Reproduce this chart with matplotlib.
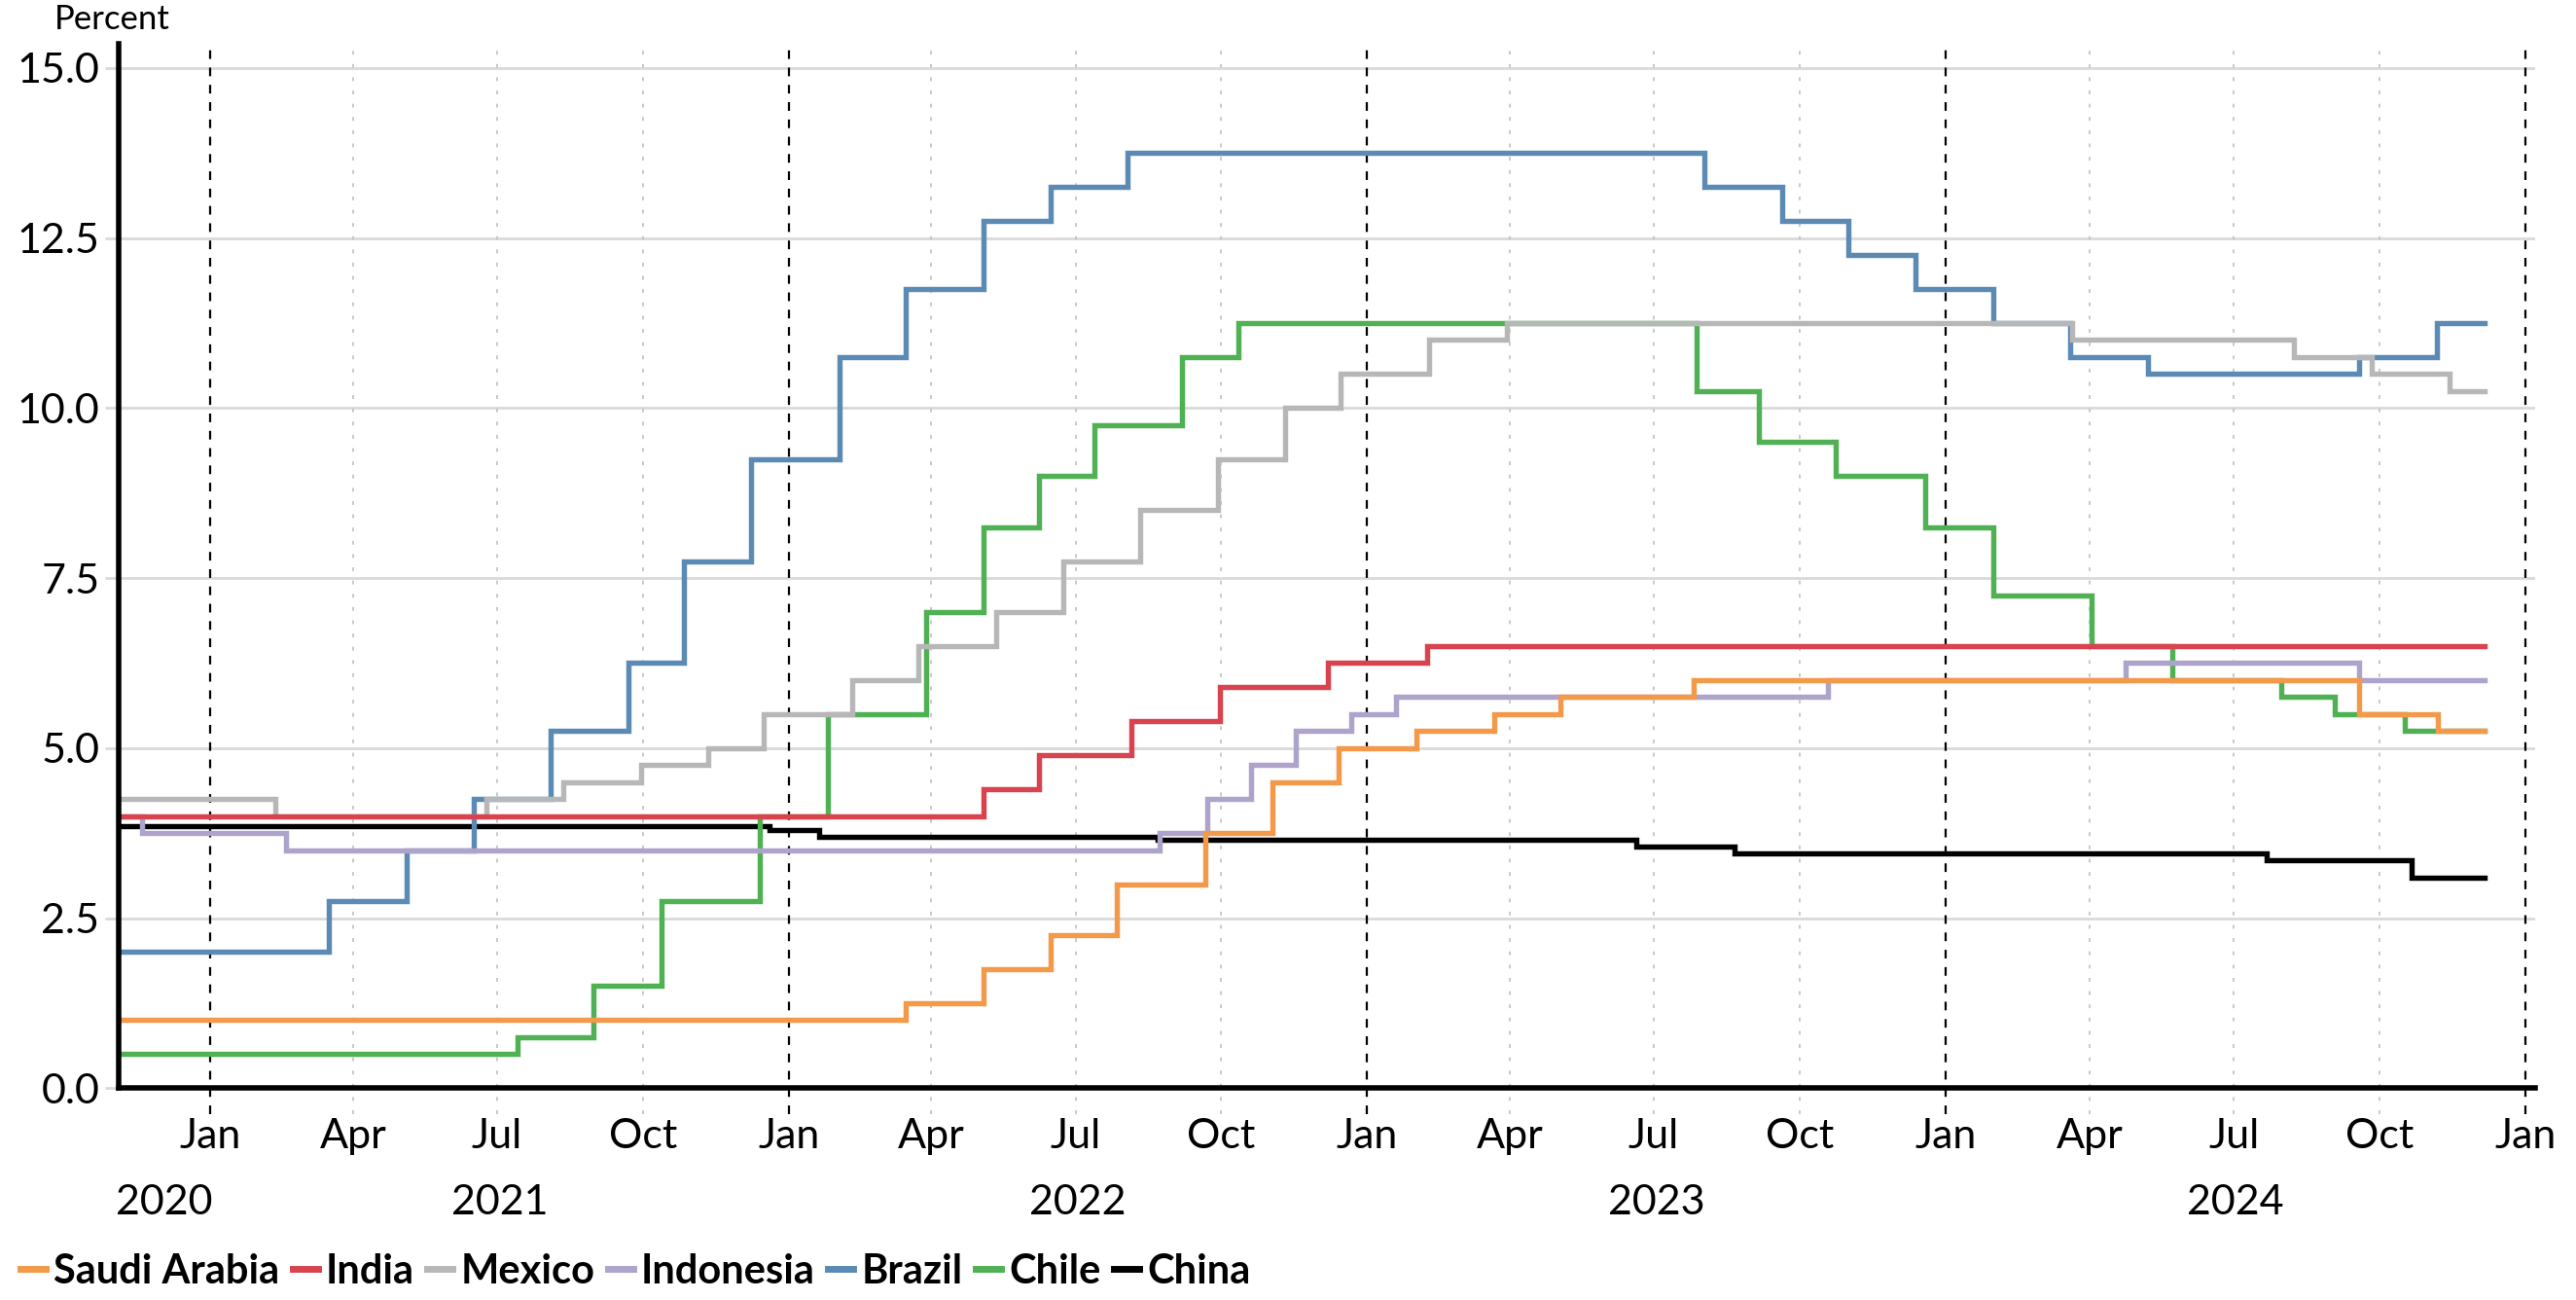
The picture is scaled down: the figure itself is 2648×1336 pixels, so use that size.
import numpy as np
import pandas as pd
import matplotlib
matplotlib.use('Agg')
import matplotlib.pyplot as plt
import matplotlib.transforms as mtransforms

plt.rcParams['font.family'] = ['Lato', 'DejaVu Sans']

# policy rate change dates and levels (steps)
saudi_dates = ['2020-11-04', '2022-03-16', '2022-05-04', '2022-06-15', '2022-07-27', '2022-09-21',
               '2022-11-02', '2022-12-14', '2023-02-01', '2023-03-22', '2023-05-03', '2023-07-26',
               '2024-09-18', '2024-11-07']
saudi_vals = [1.0, 1.25, 1.75, 2.25, 3.0, 3.75, 4.5, 5.0, 5.25, 5.5, 5.75, 6.0, 5.5, 5.25]

india_dates = ['2020-11-04', '2022-05-04', '2022-06-08', '2022-08-05', '2022-09-30', '2022-12-07', '2023-02-08']
india_vals = [4.0, 4.4, 4.9, 5.4, 5.9, 6.25, 6.5]

mexico_dates = ['2020-11-04', '2021-02-11', '2021-06-24', '2021-08-12', '2021-09-30', '2021-11-11',
                '2021-12-16', '2022-02-10', '2022-03-24', '2022-05-12', '2022-06-23', '2022-08-11',
                '2022-09-29', '2022-11-10', '2022-12-15', '2023-02-09', '2023-03-30', '2024-03-21',
                '2024-08-08', '2024-09-26', '2024-11-14']
mexico_vals = [4.25, 4.0, 4.25, 4.5, 4.75, 5.0, 5.5, 6.0, 6.5, 7.0, 7.75, 8.5, 9.25, 10.0, 10.5,
               11.0, 11.25, 11.0, 10.75, 10.5, 10.25]

indonesia_dates = ['2020-11-04', '2020-11-19', '2021-02-18', '2022-08-23', '2022-09-22', '2022-10-20',
                   '2022-11-17', '2022-12-22', '2023-01-19', '2023-10-19', '2024-04-24', '2024-09-18']
indonesia_vals = [4.0, 3.75, 3.5, 3.75, 4.25, 4.75, 5.25, 5.5, 5.75, 6.0, 6.25, 6.0]

brazil_dates = ['2020-11-04', '2021-03-17', '2021-05-05', '2021-06-16', '2021-08-04', '2021-09-22',
                '2021-10-27', '2021-12-08', '2022-02-02', '2022-03-16', '2022-05-04', '2022-06-15',
                '2022-08-03', '2023-08-02', '2023-09-20', '2023-11-01', '2023-12-13', '2024-01-31',
                '2024-03-20', '2024-05-08', '2024-09-18', '2024-11-06']
brazil_vals = [2.0, 2.75, 3.5, 4.25, 5.25, 6.25, 7.75, 9.25, 10.75, 11.75, 12.75, 13.25, 13.75,
               13.25, 12.75, 12.25, 11.75, 11.25, 10.75, 10.5, 10.75, 11.25]

chile_dates = ['2020-11-04', '2021-07-14', '2021-08-31', '2021-10-13', '2021-12-14', '2022-01-26',
               '2022-03-29', '2022-05-04', '2022-06-08', '2022-07-13', '2022-09-06', '2022-10-12',
               '2023-07-28', '2023-09-05', '2023-10-24', '2023-12-19', '2024-01-31', '2024-04-02',
               '2024-05-23', '2024-07-31', '2024-09-03', '2024-10-17']
chile_vals = [0.5, 0.75, 1.5, 2.75, 4.0, 5.5, 7.0, 8.25, 9.0, 9.75, 10.75, 11.25, 10.25, 9.5, 9.0,
              8.25, 7.25, 6.5, 6.0, 5.75, 5.5, 5.25]

china_dates = ['2020-11-04', '2021-12-20', '2022-01-20', '2022-08-22', '2023-06-20', '2023-08-21',
               '2024-07-22', '2024-10-21']
china_vals = [3.85, 3.8, 3.7, 3.65, 3.55, 3.45, 3.35, 3.1]

end_date = '2024-12-06'

series = [
    ('Saudi Arabia', saudi_dates, saudi_vals, '#f2994a'),
    ('India', india_dates, india_vals, '#d8434f'),
    ('Mexico', mexico_dates, mexico_vals, '#b7b7b7'),
    ('Indonesia', indonesia_dates, indonesia_vals, '#ada3cb'),
    ('Brazil', brazil_dates, brazil_vals, '#5b8ab5'),
    ('Chile', chile_dates, chile_vals, '#4fb153'),
    ('China', china_dates, china_vals, '#000000'),
]

fig = plt.figure(figsize=(26.48, 13.36), dpi=100)
ax = fig.add_axes([0.046, 0.163, 0.938, 0.803])

n = len(series)
for i, (name, d, v, c) in enumerate(series):
    x = pd.to_datetime(d + [end_date])
    y = v + [v[-1]]
    ax.plot(x, y, drawstyle='steps-post', color=c, lw=3.9, label=name, zorder=10 + n - i,
            solid_joinstyle='miter')

xmin = pd.Timestamp('2020-11-04')
xmax = pd.Timestamp('2025-01-07')
ax.set_xlim(xmin, xmax)
ax.set_ylim(0, 15.35)

# y grid
yticks = np.arange(0, 15.1, 2.5)
ax.set_yticks(yticks)
ax.set_yticklabels([f'{t:.1f}' for t in yticks], fontsize=31)
for t in yticks:
    ax.axhline(t, color='#d9d9d9', lw=2, zorder=1)
ax.tick_params(axis='y', length=10, width=2, color='#d9d9d9', pad=4)

# x ticks / vertical guides
qticks = pd.date_range('2021-01-01', '2025-01-01', freq='QS')
qlabels = [t.strftime('%b') for t in qticks]
ax.set_xticks(qticks)
ax.set_xticklabels(qlabels, fontsize=31)
ax.tick_params(axis='x', length=0, pad=22)
for t in qticks:
    if t.month == 1:
        ax.axvline(t, ymin=-0.025, ymax=1, color='black', lw=1.6, ls=(0, (4, 4)), zorder=2, clip_on=False)
    else:
        ax.axvline(t, ymin=-0.025, ymax=1, color='#c8c8c8', lw=1.4, ls=(0, (2, 5)), zorder=2, clip_on=False)

# year labels centred on each year's visible span
trans = mtransforms.blended_transform_factory(ax.transData, ax.transAxes)
years = [2020, 2021, 2022, 2023, 2024]
for yr in years:
    a = max(pd.Timestamp(f'{yr}-01-01'), xmin)
    b = min(pd.Timestamp(f'{yr + 1}-01-01'), xmax)
    mid = a + (b - a) / 2
    ax.text(mid, -0.11, str(yr), transform=trans, ha='center', va='center', fontsize=31)

for s in ['top', 'right']:
    ax.spines[s].set_visible(False)
ax.spines['left'].set_linewidth(4)
ax.spines['bottom'].set_linewidth(4)
ax.spines['left'].set_zorder(20)
ax.spines['bottom'].set_zorder(20)

fig.text(0.021, 0.985, 'Percent', fontsize=25, va='center', ha='left')

leg = fig.legend(loc='lower left', bbox_to_anchor=(-0.003, -0.014), ncol=7, frameon=False,
                 handlelength=0.62, handletextpad=0.2, columnspacing=0.32, borderaxespad=0.3,
                 prop={'size': 30, 'weight': 'bold'})
for h in leg.get_lines():
    h.set_linewidth(5)

fig.savefig('out.png', dpi=100)
